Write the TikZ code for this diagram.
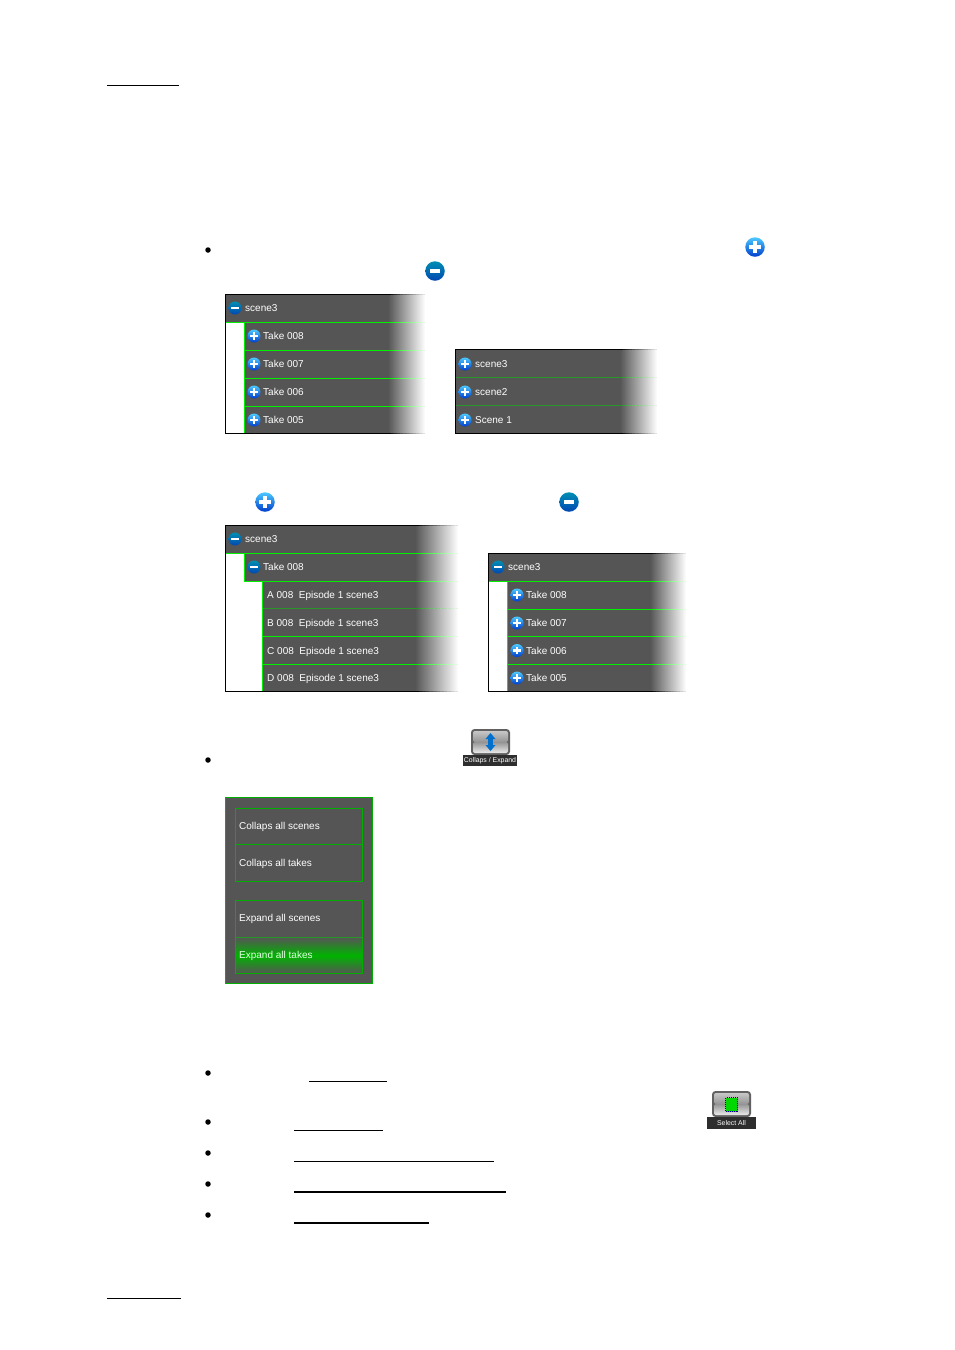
\documentclass[tikz,border=0pt]{standalone}
\usepackage{fontspec}
\setmainfont{Liberation Sans}
\definecolor{panelgray}{RGB}{85,85,85}
\definecolor{brightgreen}{RGB}{0,240,0}
\definecolor{dimgreen}{RGB}{40,150,40}
\definecolor{menugreen}{RGB}{0,175,0}
\tikzset{
  rowtext/.style={anchor=west,inner sep=0pt,yshift=0.1pt,text=white,text height=7.2pt,text depth=0pt,font=\fontsize{10}{12}\selectfont},
  caption/.style={fill=black!82,text=white,inner sep=0pt,font=\fontsize{6.9}{8}\selectfont},
  bullet/.style={circle,fill=black,inner sep=0pt,minimum size=5.5pt},
  plusicon/.pic={
    \shade[top color=blue!30!cyan!70!white,bottom color=blue!70!cyan!80!black] (0,0) circle (6.5);
    \fill[white] (-3.8,-1.2) rectangle (3.8,1.2);
    \fill[white] (-1.2,-3.8) rectangle (1.2,3.8);
  },
  minusicon/.pic={
    \shade[top color=blue!20!cyan!70!black,bottom color=blue!60!cyan!70!black] (0,0) circle (6.5);
    \fill[white] (-3.6,-1.1) rectangle (3.6,1.1);
  },
  buttonbody/.pic={
    \fill[black!62,rounded corners=3.5] (-19.5,-13) rectangle (19.5,13);
    \shade[top color=black!22,bottom color=black!42,rounded corners=2] (-17.5,-11) rectangle (17.5,0);
    \shade[top color=black!42,bottom color=black!8,rounded corners=2] (-17.5,0) rectangle (17.5,11);
  }
}
% dark panel that goes white on its right side
\newcommand{\fadepanel}[5]{
  \fill[panelgray] (#1,#2) rectangle (#5,#4);
  \shade[left color=panelgray,right color=white] (#5,#2) rectangle (#3,#4);
}
% one pixel line, in steps so that it stays thin where it fades
\newcommand{\fadeline}[5]{
  \fill[#5] (#1,#4-0.5) rectangle (#2,#4+0.5);
  \foreach \k in {0,...,11}{
    \pgfmathsetmacro\xa{#2+(#3-#2)*\k/12}
    \pgfmathsetmacro\xb{#2+(#3-#2)*(\k+1)/12+0.3}
    \pgfmathsetmacro\mixv{100-\k*8}
    \fill[#5!\mixv!white] (\xa,#4-0.5) rectangle (\xb,#4+0.5);
  }
}
\begin{document}
\begin{tikzpicture}[x=1pt,y=-1pt]
  \useasboundingbox[fill=white] (0,0) rectangle (954,1350);
  %% page rules
  \draw[line width=1pt] (107,85.5) -- (179,85.5);
  \draw[line width=1pt] (107,1298.5) -- (181,1298.5);
  %% bullets
  \foreach \y [count=\i] in {250,760,1073,1122,1153,1184,1215}{
    \node[bullet] (bullet\i) at (208,\y) {};
  }
  %% big icons in the text
  \pic[scale=1.5] at (755,247) {plusicon};
  \pic[scale=1.5] at (435,271) {minusicon};
  \pic[scale=1.5] at (265,502) {plusicon};
  \pic[scale=1.5] at (569,502) {minusicon};

  %% first panel
  \fadepanel{225}{294}{425}{322}{388}
  \fadepanel{244}{322}{425}{433}{388}
  \pic at (235,308) {minusicon};
  \node[rowtext] (topscene) at (245,308) {scene3};
  \foreach \t/\y in {008/336,007/364,006/392,005/420}{
    \pic at (254,\y) {plusicon};
    \node[rowtext] (topTake\t) at (263,\y) {Take \t};
  }
  \fadeline{225}{388}{425}{322.5}{brightgreen}
  \foreach \y in {350.5,378.5,406.5}{
    \fadeline{244}{388}{425}{\y}{brightgreen}
  }
  \draw[brightgreen,line width=1pt] (244.5,322) -- (244.5,433.5);
  \fadeline{225}{388}{425}{294.5}{black}
  \fadeline{225}{388}{425}{433.5}{black}
  \draw[line width=1pt] (225.5,294) -- (225.5,434);

  %% second panel
  \fadepanel{455}{349}{657}{433}{620}
  \foreach \t/\y in {scene3/364,scene2/392,Scene 1/420}{
    \pic at (465,\y) {plusicon};
    \node[rowtext] at (475,\y) {\t};
  }
  \foreach \y in {377.5,405.5}{
    \fadeline{455}{620}{657}{\y}{dimgreen}
  }
  \fadeline{455}{620}{657}{349.5}{black}
  \fadeline{455}{620}{657}{433.5}{black}
  \draw[line width=1pt] (455.5,349) -- (455.5,434);

  %% third panel
  \fadepanel{225}{525}{458}{553}{415}
  \fadepanel{244}{553}{458}{581}{415}
  \fadepanel{262}{581}{458}{691}{415}
  \pic at (235,539) {minusicon};
  \node[rowtext] (midscene) at (245,539) {scene3};
  \pic at (254,567) {minusicon};
  \node[rowtext] (midTake) at (263,567) {Take 008};
  \foreach \l/\y in {A/595,B/623,C/650.5,D/678}{
    \node[rowtext] (ep\l) at (267,\y) {\l{} 008\hspace{2.8pt} Episode 1 scene3};
  }
  \fadeline{225}{415}{458}{553.5}{brightgreen}
  \fadeline{244}{415}{458}{581.5}{brightgreen}
  \fadeline{262}{415}{458}{608.5}{dimgreen}
  \fadeline{262}{415}{458}{636.5}{brightgreen}
  \fadeline{262}{415}{458}{664.5}{brightgreen}
  \draw[brightgreen,line width=1pt] (244.5,553) -- (244.5,582);
  \draw[brightgreen,line width=1pt] (262.5,581) -- (262.5,691.5);
  \fadeline{225}{415}{458}{525.5}{black}
  \fadeline{225}{415}{458}{691.5}{black}
  \draw[line width=1pt] (225.5,525) -- (225.5,692);

  %% fourth panel
  \fadepanel{488}{553}{686}{581}{650}
  \fadepanel{507}{581}{686}{691}{650}
  \pic at (498,567) {minusicon};
  \node[rowtext] (lowscene) at (508,567) {scene3};
  \foreach \t/\y in {008/595,007/623,006/650.5,005/678}{
    \pic at (517,\y) {plusicon};
    \node[rowtext] (lowTake\t) at (526,\y) {Take \t};
  }
  \fadeline{488}{650}{686}{581.5}{brightgreen}
  \foreach \y in {609.5,636.5,664.5}{
    \fadeline{507}{650}{686}{\y}{brightgreen}
  }
  \draw[brightgreen,line width=1pt] (507.5,581) -- (507.5,691.5);
  \fadeline{488}{650}{686}{553.5}{black}
  \fadeline{488}{650}{686}{691.5}{black}
  \draw[line width=1pt] (488.5,553) -- (488.5,692);

  %% collapse button
  \pic at (490.5,742) {buttonbody};
  \fill[blue!45!cyan!80!black] (490.5,733) -- (495.5,739) -- (492.8,739) -- (492.8,745) -- (495.5,745) -- (490.5,751) -- (485.5,745) -- (488.2,745) -- (488.2,739) -- (485.5,739) -- cycle;
  \node[caption,minimum width=54pt,minimum height=11pt] (collapscap) at (490,760.5) {Collaps / Expand};

  %% menu
  \fill[panelgray] (225.5,797.5) rectangle (372.5,983.5);
  \shade[top color=panelgray,bottom color=panelgray,middle color=green!70!black] (235,937.5) rectangle (363,973.5);
  \draw[menugreen,line width=1pt] (225.5,797.5) rectangle (372.5,983.5);
  \draw[menugreen,line width=1pt] (235.5,808.5) rectangle (362.5,881.5);
  \draw[menugreen,line width=1pt] (235.5,844.5) -- (362.5,844.5);
  \draw[menugreen,line width=1pt] (235.5,900.5) rectangle (362.5,973.5);
  \draw[dimgreen,line width=1pt] (235.5,937.5) -- (362.5,937.5);
  \node[rowtext] (allscenes) at (239,826) {Collaps all scenes};
  \node[rowtext] (alltakes) at (239,863) {Collaps all takes};
  \node[rowtext] (expscenes) at (239,918) {Expand all scenes};
  \node[rowtext,text=green!10!white] (exptakes) at (239,955) {Expand all takes};

  %% select button
  \pic at (731.5,1104) {buttonbody};
  \draw[blue!50!black,densely dotted,fill=green!85!black,line width=1pt] (725.5,1097.5) rectangle (737.5,1111.5);
  \node[caption,minimum width=49pt,minimum height=12pt] (selectcap) at (731.5,1123) {Select All};

  %% underlines
  \draw[line width=1pt] (309,1081.5) -- (387,1081.5);
  \draw[line width=1pt] (294,1130.5) -- (383,1130.5);
  \draw[line width=1pt] (294,1161.5) -- (494,1161.5);
  \draw[line width=2pt] (294,1192) -- (506,1192);
  \draw[line width=2pt] (294,1223) -- (429,1223);
\end{tikzpicture}
\end{document}
